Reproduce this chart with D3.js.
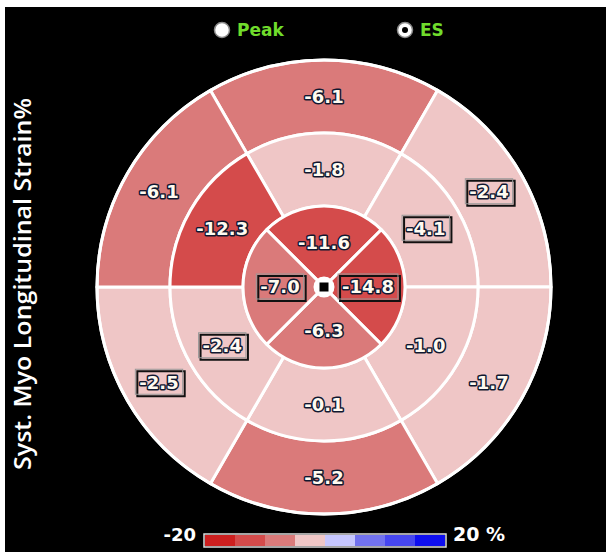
<!DOCTYPE html>
<html>
<head>
<meta charset="utf-8">
<script src="https://cdn.jsdelivr.net/npm/d3@7"></script>
<style>
  html, body { margin: 0; padding: 0; background: #fff; }
  svg { display: block; }
</style>
</head>
<body>
<svg id="chart"></svg>
<script>
// segment values, AHA order within each ring (anterior first, clockwise on screen)
var basalNames = ["anterior", "anterolateral", "inferolateral", "inferior", "inferoseptal", "anteroseptal"];
var basalValues = [-6.1, -2.4, -1.7, -5.2, -2.5, -6.1];
var midNames = ["anterior", "anterolateral", "inferolateral", "inferior", "inferoseptal", "anteroseptal"];
var midValues = [-1.8, -4.1, -1.0, -0.1, -2.4, -12.3];
var apicalNames = ["anterior", "lateral", "inferior", "septal"];
var apicalValues = [-11.6, -14.8, -6.3, -7.0];
// segments whose label is drawn boxed
var boxedSegments = ["basal-anterolateral", "mid-anterolateral", "apical-lateral",
                     "apical-septal", "mid-inferoseptal", "basal-inferoseptal"];

var legendMin = -20, legendMax = 20;
var legendColors = ["#cd1f1f", "#d44b4b", "#da7a7a", "#efc6c6", "#c6c6fe", "#7272ee", "#4646f0", "#0e0ef0"];
var modes = ["Peak", "ES"];
var selectedMode = "ES";
var title = "Syst. Myo Longitudinal Strain%";

var width = 606,
    height = 552;

var svg = d3.select("#chart")
    .attr("width", width)
    .attr("height", height);

svg.append("rect")
    .attr("x", 5).attr("y", 7)
    .attr("width", width - 5).attr("height", height - 7)
    .attr("fill", "#000");

var cx = 324, cy = 287;
var rOuter = 227, rMid = 154, rApex = 81, rHole = 9;

var color = d3.scaleQuantize()
    .domain([legendMin, legendMax])
    .range(legendColors);

var deg = Math.PI / 180;

function ring(prefix, names, values, r0, r1, start) {
    var step = 360 / names.length;
    return names.map(function(n, i) {
        return {
            id: prefix + "-" + n,
            value: values[i],
            innerRadius: r0,
            outerRadius: r1,
            startAngle: (start + i * step) * deg,
            endAngle: (start + (i + 1) * step) * deg
        };
    });
}

var segments = []
    .concat(ring("basal", basalNames, basalValues, rMid, rOuter, -30))
    .concat(ring("mid", midNames, midValues, rApex, rMid, -30))
    .concat(ring("apical", apicalNames, apicalValues, rHole, rApex, -45));

var arc = d3.arc();

var g = svg.append("g").attr("transform", "translate(" + cx + "," + cy + ")");

g.selectAll("path.seg")
    .data(segments)
    .enter().append("path")
    .attr("class", "seg")
    .attr("d", arc)
    .attr("fill", function(d) { return color(d.value); })
    .attr("stroke", "#fff")
    .attr("stroke-width", 3)
    .attr("stroke-linejoin", "round");

g.append("circle")
    .attr("r", rOuter)
    .attr("fill", "none")
    .attr("stroke", "#fff")
    .attr("stroke-width", 3);

g.append("circle").attr("r", rHole + 1).attr("fill", "#fff");
g.append("rect")
    .attr("x", -4.5).attr("y", -4.5)
    .attr("width", 9).attr("height", 9)
    .attr("fill", "#000");

var labels = g.selectAll("g.lab")
    .data(segments)
    .enter().append("g")
    .attr("class", "lab")
    .attr("transform", function(d) {
        var a = (d.startAngle + d.endAngle) / 2;
        var r = d.innerRadius === rHole ? 44 : (d.innerRadius + d.outerRadius) / 2;
        return "translate(" + (r * Math.sin(a)) + "," + (-r * Math.cos(a)) + ")";
    });

var labelText = labels.append("text")
    .attr("text-anchor", "middle")
    .attr("dy", "0.36em")
    .attr("font-family", "DejaVu Sans")
    .attr("font-weight", "bold")
    .attr("font-size", 18)
    .attr("fill", "#fffaf0")
    .attr("stroke", "#101830")
    .attr("stroke-width", 3)
    .attr("paint-order", "stroke")
    .attr("stroke-linejoin", "round")
    .text(function(d) { return d.value.toFixed(1); });

labelText.each(function(d) {
    if (boxedSegments.indexOf(d.id) < 0) return;
    var w = this.getComputedTextLength() + 8;
    var sel = d3.select(this.parentNode);
    sel.insert("rect", "text")
        .attr("x", -w / 2 + 2).attr("y", -11)
        .attr("width", w).attr("height", 25)
        .attr("fill", "none")
        .attr("stroke", "#111")
        .attr("stroke-width", 2);
    sel.insert("rect", "text")
        .attr("x", -w / 2).attr("y", -13)
        .attr("width", w).attr("height", 25)
        .attr("fill", "none")
        .attr("stroke", "#999")
        .attr("stroke-width", 1);
});

// mode radio buttons
var modeX = d3.scalePoint().domain(modes).range([222, 405]);

var radio = svg.selectAll("g.mode")
    .data(modes)
    .enter().append("g")
    .attr("class", "mode")
    .attr("transform", function(d) { return "translate(" + modeX(d) + ",30)"; });

radio.append("circle")
    .attr("r", 7.5)
    .attr("fill", "#fff")
    .attr("stroke", "#888")
    .attr("stroke-width", 1.5);

radio.filter(function(d) { return d === selectedMode; })
    .append("circle")
    .attr("r", 3)
    .attr("fill", "#000");

radio.append("text")
    .attr("x", 15)
    .attr("dy", "0.36em")
    .attr("font-family", "DejaVu Sans")
    .attr("font-weight", "bold")
    .attr("font-size", 17)
    .attr("fill", "#70dc2c")
    .text(function(d) { return d; });

// axis title
svg.append("text")
    .attr("transform", "translate(31,284) rotate(-90)")
    .attr("text-anchor", "middle")
    .attr("font-family", "Open Sans")
    .attr("font-weight", 600)
    .attr("font-size", 24)
    .attr("textLength", 372)
    .attr("lengthAdjust", "spacingAndGlyphs")
    .attr("fill", "#fff")
    .text(title);

// colour legend
var legendX = d3.scaleLinear().domain([legendMin, legendMax]).range([205, 445]);
var bins = color.range().map(function(c) { return color.invertExtent(c); });

svg.selectAll("rect.leg")
    .data(bins)
    .enter().append("rect")
    .attr("class", "leg")
    .attr("x", function(d) { return legendX(d[0]); })
    .attr("y", 535)
    .attr("width", function(d) { return legendX(d[1]) - legendX(d[0]); })
    .attr("height", 11)
    .attr("fill", function(d) { return color(d[0]); });

svg.append("rect")
    .attr("x", legendX(legendMin) - 1).attr("y", 534)
    .attr("width", legendX(legendMax) - legendX(legendMin) + 2).attr("height", 13)
    .attr("fill", "none")
    .attr("stroke", "#ddd")
    .attr("stroke-width", 1.5);

svg.append("text")
    .attr("x", legendX(legendMin) - 9).attr("y", 541)
    .attr("text-anchor", "end")
    .attr("font-family", "DejaVu Sans")
    .attr("font-weight", "bold")
    .attr("font-size", 18)
    .attr("fill", "#fff")
    .text(legendMin);

svg.append("text")
    .attr("x", legendX(legendMax) + 8).attr("y", 541)
    .attr("font-family", "DejaVu Sans")
    .attr("font-weight", "bold")
    .attr("font-size", 19)
    .attr("fill", "#fff")
    .text(legendMax + " %");
</script>
</body>
</html>
